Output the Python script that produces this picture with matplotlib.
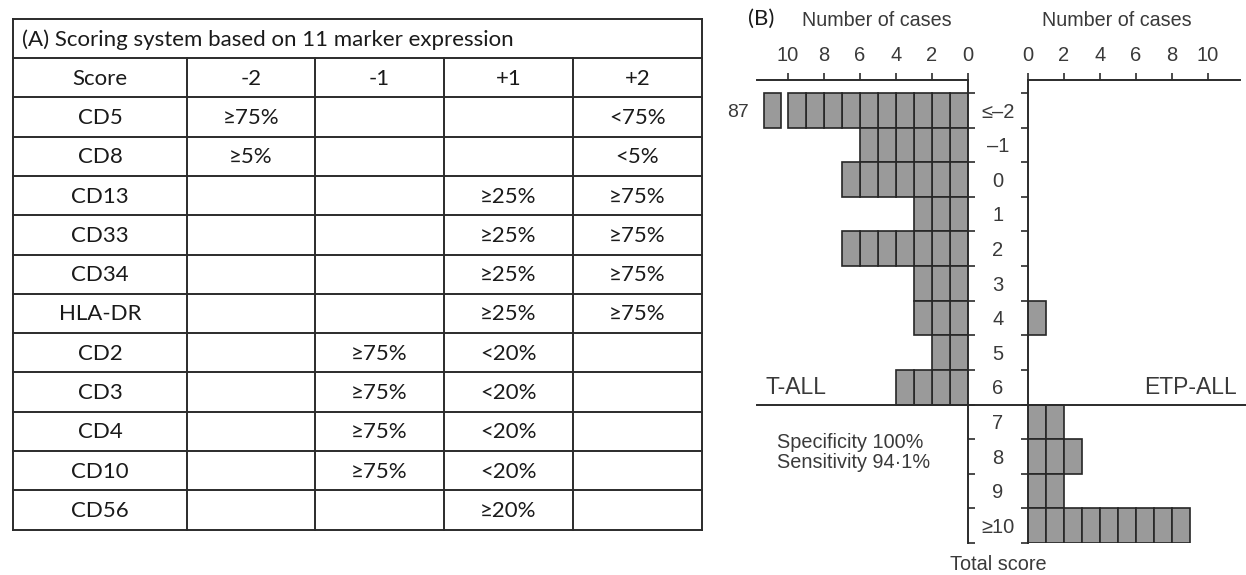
import matplotlib
matplotlib.use("Agg")
import matplotlib.pyplot as plt
from matplotlib.lines import Line2D
from matplotlib.transforms import blended_transform_factory as btf

# ---------------- data ----------------
table_title = "(A) Scoring system based on 11 marker expression"
score_header = ["Score", "-2", "-1", "+1", "+2"]
markers = ["CD5", "CD8", "CD13", "CD33", "CD34", "HLA-DR", "CD2", "CD3", "CD4", "CD10", "CD56"]
col_m2 = ["≥75%", "≥5%", "", "", "", "", "", "", "", "", ""]
col_m1 = ["", "", "", "", "", "", "≥75%", "≥75%", "≥75%", "≥75%", ""]
col_p1 = ["", "", "≥25%", "≥25%", "≥25%", "≥25%", "<20%", "<20%", "<20%", "<20%", "≥20%"]
col_p2 = ["<75%", "<5%", "≥75%", "≥75%", "≥75%", "≥75%", "", "", "", "", ""]

score_labels = ["≤–2", "–1", "0", "1", "2", "3", "4", "5", "6", "7", "8", "9", "≥10"]
tall_counts = [87, 6, 7, 3, 7, 3, 3, 2, 4, 0, 0, 0, 0]
etp_counts = [0, 0, 0, 0, 0, 0, 1, 0, 0, 2, 3, 2, 9]
count_ticks = [0, 2, 4, 6, 8, 10]
cutoff_row = 9  # boundary between score 6 and 7

# ---------------- figure ----------------
W, H = 1246, 575
fig = plt.figure(figsize=(W / 100, H / 100), dpi=100)

TFONT = ["Lato", "DejaVu Sans"]
PFONT = ["Liberation Sans", "DejaVu Sans"]
LC = "#2b2b2b"
TC = "#3a3a3a"

# ---------- (A) table ----------
axT = fig.add_axes([0, 0, 1, 1])
axT.set_xlim(0, W)
axT.set_ylim(H, 0)
axT.axis("off")

col_x = [13, 187, 315, 444, 573, 702]
top = 19
title_h = 39
row_h = 39.3
ys = [top, top + title_h]
for k in range(1 + len(markers)):
    ys.append(ys[-1] + row_h)
bottom = ys[-1]

for y in ys:
    axT.plot([col_x[0], col_x[-1]], [y, y], color=LC, lw=1.4, solid_capstyle="projecting")
axT.plot([col_x[0], col_x[0]], [top, bottom], color=LC, lw=1.4)
axT.plot([col_x[-1], col_x[-1]], [top, bottom], color=LC, lw=1.4)
for x in col_x[1:-1]:
    axT.plot([x, x], [ys[1], bottom], color=LC, lw=1.4)

tfs = 16
axT.text(col_x[0] + 9, (ys[0] + ys[1]) / 2 + 1, table_title, ha="left", va="center",
         fontsize=tfs, family=TFONT, color="#1a1a1a")
rows = [score_header] + [[m, a, b, c, d] for m, a, b, c, d in zip(markers, col_m2, col_m1, col_p1, col_p2)]
for r, row in enumerate(rows):
    yc = (ys[r + 1] + ys[r + 2]) / 2 + 1
    for c, txt in enumerate(row):
        if txt:
            axT.text((col_x[c] + col_x[c + 1]) / 2, yc, txt, ha="center", va="center",
                     fontsize=tfs, family=TFONT, color="#1a1a1a")

# ---------- (B) histograms ----------
def px_axes(x0, x1, y0, y1):
    return fig.add_axes([x0 / W, (H - y1) / H, (x1 - x0) / W, (y1 - y0) / H])

unit = 18.0
axL = px_axes(757, 968, 80, 543)
axR = px_axes(1028, 1240, 80, 543)
n = len(score_labels)
gap_top = 13 / 34.6
for ax in (axL, axR):
    ax.set_ylim(n, -gap_top)
    ax.set_facecolor("none")
axL.set_xlim(211 / unit, 0)
axR.set_xlim(0, 212 / unit)

FACE = "#9a9a9a"
EDGE = "#262626"
for i, c in enumerate(tall_counts):
    shown = min(c, 10)
    if shown:
        axL.barh([i + 0.5] * shown, 1, left=list(range(shown)), height=1,
                 color=FACE, edgecolor=EDGE, lw=1.2)
    if c > 10:
        axL.barh(i + 0.5, 0.94, left=10.39, height=1, color=FACE, edgecolor=EDGE, lw=1.2)
        axL.text(12.8, i + 0.55, str(c), ha="center", va="center", fontsize=14,
                 family=PFONT, color=TC, clip_on=False)
for i, c in enumerate(etp_counts):
    if c:
        axR.barh([i + 0.5] * c, 1, left=list(range(c)), height=1,
                 color=FACE, edgecolor=EDGE, lw=1.2)

for ax, side in ((axL, "right"), (axR, "left")):
    for s in ("top", "right", "left", "bottom"):
        ax.spines[s].set_visible(s in ("top", side))
        ax.spines[s].set_color(LC)
        ax.spines[s].set_linewidth(1.4)
    ax.xaxis.tick_top()
    ax.set_xticks(count_ticks)
    ax.tick_params(axis="x", direction="out", length=5, width=1.2, color=LC,
                   labelsize=14.5, pad=6, labelcolor=TC)
    for lab in ax.get_xticklabels():
        lab.set_family(PFONT)
    if side == "right":
        ax.yaxis.tick_right()
    else:
        ax.yaxis.tick_left()
    ax.set_yticks(range(n + 1))
    ax.set_yticklabels([])
    ax.tick_params(axis="y", direction="out", length=5, width=1.2, color=LC)

# cutoff line
tr = btf(fig.transFigure, axL.transData)
fig.add_artist(Line2D([757 / W, 1.0], [cutoff_row, cutoff_row], transform=tr, color=LC, lw=1.4))

# score labels
for i, lab in enumerate(score_labels):
    axL.text(998 / W, i + 0.55, lab, transform=tr, ha="center", va="center",
             fontsize=14.5, family=PFONT, color=TC, clip_on=False)

fig.text(998 / W, (H - 565) / H, "Total score", ha="center", va="center",
         fontsize=14.3, family=PFONT, color=TC)
fig.text(877 / W, (H - 20) / H, "Number of cases", ha="center", va="center",
         fontsize=14.2, family=PFONT, color=TC)
fig.text(1117 / W, (H - 20) / H, "Number of cases", ha="center", va="center",
         fontsize=14.2, family=PFONT, color=TC)
fig.text(748 / W, (H - 19) / H, "(B)", ha="left", va="center",
         fontsize=tfs, family=TFONT, color="#1a1a1a")
fig.text(765 / W, (H - 387) / H, "T-ALL", ha="left", va="center",
         fontsize=16.5, family=PFONT, color=TC)
fig.text(1237 / W, (H - 387) / H, "ETP-ALL", ha="right", va="center",
         fontsize=16.5, family=PFONT, color=TC)
fig.text(777 / W, (H - 443) / H, "Specificity 100%", ha="left", va="center",
         fontsize=14.3, family=PFONT, color=TC)
fig.text(777 / W, (H - 463) / H, "Sensitivity 94·1%", ha="left", va="center",
         fontsize=14.3, family=PFONT, color=TC)

fig.savefig("out.png", dpi=100)
